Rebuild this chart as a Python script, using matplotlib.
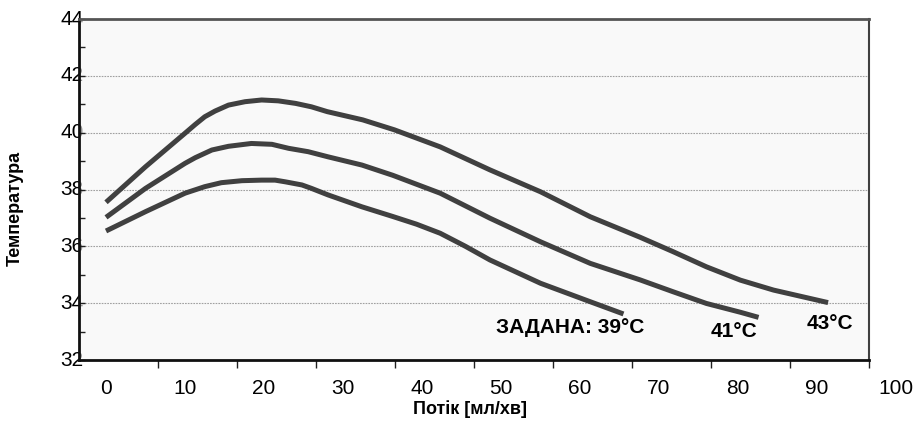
import numpy as np
import matplotlib.pyplot as plt
from matplotlib.transforms import blended_transform_factory

plt.rcParams['font.family'] = ['Liberation Sans', 'DejaVu Sans']

# flow [ml/min] vs temperature, one curve per set temperature
flow_39 = [0, 5, 10, 12.5, 14.6, 17.2, 19.7, 21.4, 22.7, 24.8, 26, 28.1, 32.4, 36.3, 39.3, 42.3, 45.5, 48.6,
           55, 61.3, 65.5]
temp_39 = [36.54, 37.22, 37.87, 38.1, 38.24, 38.31, 38.33, 38.33, 38.27, 38.16, 38.04, 37.81, 37.39, 37.05,
           36.78, 36.46, 36.0, 35.52, 34.7, 34.05, 33.62]

flow_41 = [0, 5, 10, 11.3, 13.4, 15.5, 18.4, 21, 23.1, 25.6, 28.1, 32.4, 36.3, 42.3, 48.6, 55, 61.3, 67.6,
           71.8, 76, 80.3, 82.6]
temp_41 = [37.02, 38.04, 38.92, 39.12, 39.39, 39.52, 39.62, 39.59, 39.45, 39.33, 39.15, 38.86, 38.5, 37.87,
           36.99, 36.16, 35.4, 34.82, 34.4, 33.99, 33.68, 33.5]

flow_43 = [0, 5, 10, 11.3, 12.5, 13.8, 15.5, 17.6, 19.7, 21.8, 24, 26, 28, 32.5, 36.5, 42.3, 48.6, 55, 61.3,
           67.6, 71.8, 76, 80.3, 84.5, 91.4]
temp_43 = [37.55, 38.8, 39.98, 40.29, 40.56, 40.76, 40.97, 41.09, 41.15, 41.12, 41.03, 40.91, 40.74, 40.45,
           40.1, 39.5, 38.69, 37.92, 37.04, 36.32, 35.81, 35.28, 34.81, 34.46, 34.02]

curve_labels = ["ЗАДАНА: 39°C", "41°C", "43°C"]
label_pos = [(58.7, 33.13), (79.5, 32.99), (91.6, 33.3)]

x_labels = [0, 10, 20, 30, 40, 50, 60, 70, 80, 90, 100]
y_labels = [32, 34, 36, 38, 40, 42, 44]

fig = plt.figure(figsize=(9.14, 4.22), dpi=100)
ax = fig.add_axes([79/914, 62/422, 790/914, 341/422])
ax.set_facecolor((0.96, 0.96, 0.96, 0.6))

x_left, x_right = -3.42, 96.58
ax.set_xlim(x_left, x_right)
ax.set_ylim(32, 44)

for fl, tp in [(flow_39, temp_39), (flow_41, temp_41), (flow_43, temp_43)]:
    ax.plot(fl, tp, color='#404040', lw=3.6, solid_capstyle='butt', solid_joinstyle='round', zorder=3)

for txt, (px, py) in zip(curve_labels, label_pos):
    ax.text(px, py, txt, fontsize=15, fontweight='bold', ha='center', va='center', zorder=4)

# grid
for yv in y_labels[1:-1]:
    ax.axhline(yv, color='#a0a0a0', lw=0.8, dashes=(1.5, 1), zorder=1)

# x ticks sit between the labels (category-style axis)
ax.set_xticks([x_left + 10*k for k in range(1, 11)])
ax.set_xticklabels([])
ax.tick_params(axis='x', direction='out', length=6, width=1, color='#202020')
xtr = blended_transform_factory(ax.transData, ax.transAxes)
for v in x_labels:
    ax.text(v, -0.083, str(v), transform=xtr, fontsize=15, ha='center', va='center', clip_on=False)

# y ticks point inward, labels overlap the spine
ax.set_yticks(np.arange(32, 45, 1))
ax.set_yticklabels([])
ax.tick_params(axis='y', direction='in', length=4, width=1, color='#202020')
ytr = blended_transform_factory(ax.transAxes, ax.transData)
for v in y_labels:
    fig.text(0.006, v, str(v), transform=ytr, fontsize=15, ha='right', va='center', zorder=-1,
             color='black')

ax.spines['left'].set_linewidth(2)
ax.spines['left'].set_color('#101010')
ax.spines['bottom'].set_linewidth(2)
ax.spines['bottom'].set_color('#101010')
ax.spines['top'].set_linewidth(2)
ax.spines['top'].set_color('#555555')
ax.spines['right'].set_linewidth(1.5)
ax.spines['right'].set_color('#404040')

fig.text(15/914, (422-208)/422, "Температура", rotation=90, fontsize=13, fontweight='bold',
         ha='center', va='center')
fig.text(470/914, (422-409)/422, "Потік [мл/хв]", fontsize=13, fontweight='bold',
         ha='center', va='center')

fig.savefig("out.png", dpi=100)
